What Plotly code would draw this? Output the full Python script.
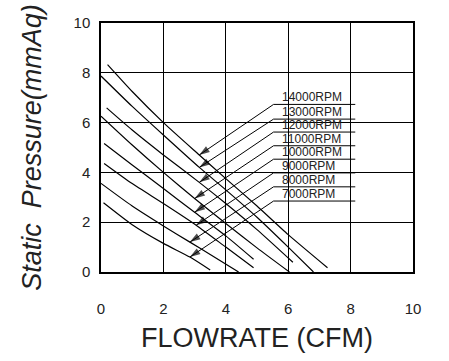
import numpy as np
import plotly.graph_objects as go

# ---- data ----
rpm_labels = ["14000RPM", "13000RPM", "12000RPM", "11000RPM",
              "10000RPM", "9000RPM", "8000RPM", "7000RPM"]

flow_14000 = [0.21, 1, 2, 3.15, 4, 5, 6, 7.26]
pres_14000 = [8.33, 7.25, 6.0, 4.7, 3.75, 2.65, 1.5, 0.17]
flow_13000 = [0.0, 1, 2, 3.15, 4, 5, 6, 6.81]
pres_13000 = [7.87, 6.65, 5.5, 4.2, 3.3, 2.2, 1.0, 0.0]
flow_12000 = [0.18, 1, 2, 3.15, 4, 5, 6.15]
pres_12000 = [6.59, 5.7, 4.7, 3.6, 2.75, 1.7, 0.39]
flow_11000 = [0.0, 1, 2, 3, 4, 5, 6.04]
pres_11000 = [6.26, 5.1, 4.0, 2.95, 1.95, 0.97, 0.0]
flow_10000 = [0.1, 1, 2, 3, 4, 4.89]
pres_10000 = [5.16, 4.3, 3.35, 2.4, 1.45, 0.51]
flow_9000 = [0.1, 1, 2, 3.05, 4, 4.89]
pres_9000 = [4.36, 3.55, 2.75, 1.88, 1.0, 0.17]
flow_8000 = [0.0, 1, 2, 2.85, 3.5, 4.41]
pres_8000 = [3.56, 2.65, 1.85, 1.2, 0.7, 0.0]
flow_7000 = [0.08, 1, 2, 2.85, 3.5]
pres_7000 = [2.78, 1.9, 1.15, 0.6, 0.08]

curves_x = [flow_14000, flow_13000, flow_12000, flow_11000,
            flow_10000, flow_9000, flow_8000, flow_7000]
curves_y = [pres_14000, pres_13000, pres_12000, pres_11000,
            pres_10000, pres_9000, pres_8000, pres_7000]

# label callouts: level of each label line and where its arrow meets the curve
label_levels = [6.73, 6.14, 5.62, 5.07, 4.53, 3.98, 3.42, 2.85]
arrow_flow = [3.15, 3.15, 3.15, 3.0, 3.0, 3.05, 2.85, 2.85]
knee_flow = 5.53
line_end_flow = 8.15
text_flow = 5.78

x_ticks = [0, 2, 4, 6, 8, 10]
y_ticks = [0, 2, 4, 6, 8, 10]

FONT = "Liberation Sans, Arial, sans-serif"

fig = go.Figure()

for cx, cy in zip(curves_x, curves_y):
    fig.add_trace(go.Scatter(x=cx, y=cy, mode="lines",
                             line=dict(color="black", width=1.2, shape="spline", smoothing=0.6),
                             showlegend=False, hoverinfo="skip"))

annotations = []
for lab, lev, af, cx, cy in zip(rpm_labels, label_levels, arrow_flow, curves_x, curves_y):
    tip_y = float(np.interp(af, cx, cy))
    fig.add_trace(go.Scatter(
        x=[line_end_flow, knee_flow, af], y=[lev, lev, tip_y],
        mode="lines+markers",
        line=dict(color="black", width=1),
        marker=dict(symbol="arrow", size=[0, 0, 11], angleref="previous",
                    color="black", line=dict(width=0)),
        showlegend=False, hoverinfo="skip"))
    annotations.append(dict(x=text_flow, y=lev, xref="x", yref="y", text=lab,
                            showarrow=False, xanchor="left", yanchor="bottom",
                            yshift=-1, borderpad=0,
                            font=dict(family=FONT, size=12, color="#222")))

fig.update_layout(
    width=449, height=361,
    margin=dict(l=101, r=36, t=23, b=89),
    paper_bgcolor="white", plot_bgcolor="white",
    annotations=annotations,
    xaxis=dict(range=[0, 10], tickvals=x_ticks, showgrid=True, gridcolor="black",
               gridwidth=1, zeroline=False, showline=True, mirror=True,
               linecolor="black", linewidth=1.5, ticks="", ticklabelstandoff=22,
               tickfont=dict(family=FONT, size=15, color="#222"),
               title=dict(text="FLOWRATE (CFM)", standoff=12,
                          font=dict(family=FONT, size=27, color="#222"))),
    yaxis=dict(range=[0, 10], tickvals=y_ticks, showgrid=True, gridcolor="black",
               gridwidth=1, zeroline=False, showline=True, mirror=True,
               linecolor="black", linewidth=1.5, ticks="", ticklabelstandoff=6,
               tickfont=dict(family=FONT, size=15, color="#222"),
               title=dict(text="Static  Pressure(mmAq)", standoff=24,
                          font=dict(family=FONT, size=27, color="#222", style="italic"))),
)

fig.write_html("out.html")
